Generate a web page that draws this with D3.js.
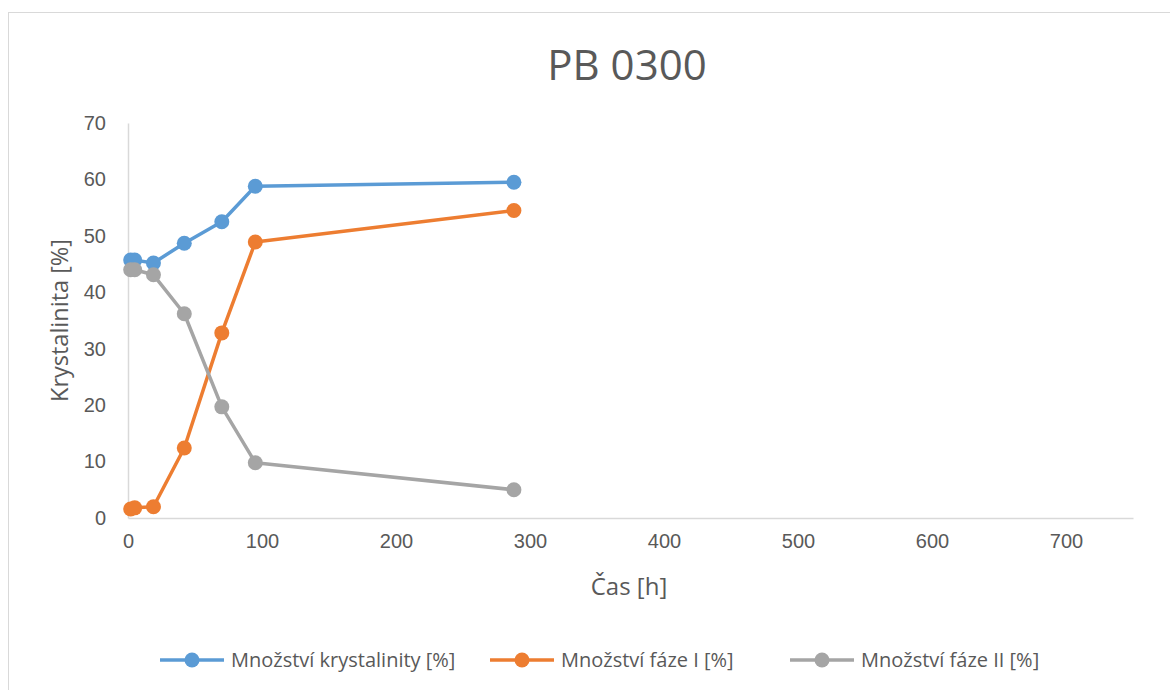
<!DOCTYPE html>
<html>
<head>
<meta charset="utf-8">
<script src="https://cdn.jsdelivr.net/npm/d3@7"></script>
<style>
  body { margin: 0; background: #fff; }
  svg { display: block; font-family: "Open Sans", "Noto Sans", sans-serif; }
</style>
</head>
<body>
<svg id="chart" width="1170" height="690"></svg>
<script>
// Sampling times [h]
const times = [2, 5, 19, 42, 70, 95, 288];
// Measured values [%]
const crystallinity = [45.7, 45.7, 45.2, 48.7, 52.5, 58.8, 59.5];
const phaseI = [1.6, 1.8, 2.0, 12.4, 32.8, 48.9, 54.5];
const phaseII = [44.0, 44.0, 43.1, 36.2, 19.7, 9.8, 5.0];

const seriesNames = ["Množství krystalinity [%]", "Množství fáze I [%]", "Množství fáze II [%]"];
const seriesColors = ["#5b9bd5", "#ed7d31", "#a5a5a5"];
const xTicks = [0, 100, 200, 300, 400, 500, 600, 700];
const yTicks = [0, 10, 20, 30, 40, 50, 60, 70];

const series = [crystallinity, phaseI, phaseII].map((vals, i) => ({
  name: seriesNames[i],
  color: seriesColors[i],
  points: vals.map((v, j) => ({ t: times[j], v }))
}));

const svg = d3.select("#chart");
const W = 1170, H = 690;
const plot = { left: 128, right: 1133, top: 123, bottom: 518 };

// chart frame
svg.append("rect")
  .attr("x", 8.5).attr("y", 12.5)
  .attr("width", W).attr("height", H)
  .attr("fill", "#fff").attr("stroke", "#d9d9d9").attr("stroke-width", 1);

const x = d3.scaleLinear().domain([0, 750]).range([plot.left, plot.right]);
const y = d3.scaleLinear().domain([0, 70]).range([plot.bottom, plot.top]);

const textColor = "#595959";

// title
svg.append("text")
  .attr("x", 627).attr("y", 80)
  .attr("text-anchor", "middle")
  .attr("font-size", 42).attr("fill", textColor)
  .text("PB 0300");

// x axis
const xAxis = svg.append("g")
  .attr("transform", `translate(0,${plot.bottom})`)
  .call(d3.axisBottom(x).tickValues(xTicks).tickSize(0).tickPadding(16).tickFormat(d3.format("d")));
xAxis.select(".domain").attr("stroke", "#d9d9d9").attr("stroke-width", 1.5);
xAxis.selectAll("text").attr("font-size", 20).attr("fill", textColor).attr("font-family", null);

// y axis
const yAxis = svg.append("g")
  .attr("transform", `translate(${plot.left},0)`)
  .call(d3.axisLeft(y).tickValues(yTicks).tickSize(0).tickPadding(22).tickFormat(d3.format("d")));
yAxis.select(".domain").attr("stroke", "#d9d9d9").attr("stroke-width", 1.5);
yAxis.selectAll("text").attr("font-size", 20).attr("fill", textColor).attr("font-family", null);

// axis titles
svg.append("text")
  .attr("x", 629).attr("y", 595)
  .attr("text-anchor", "middle")
  .attr("font-size", 24).attr("fill", textColor)
  .text("Čas [h]");

svg.append("text")
  .attr("transform", `translate(68,${(plot.top + plot.bottom) / 2}) rotate(-90)`)
  .attr("text-anchor", "middle")
  .attr("font-size", 23.5).attr("fill", textColor)
  .text("Krystalinita [%]");

// series lines and markers
const line = d3.line().x(d => x(d.t)).y(d => y(d.v));
series.forEach(s => {
  const g = svg.append("g");
  g.append("path")
    .attr("d", line(s.points))
    .attr("fill", "none").attr("stroke", s.color)
    .attr("stroke-width", 3.5).attr("stroke-linejoin", "round");
  g.selectAll("circle").data(s.points).join("circle")
    .attr("cx", d => x(d.t)).attr("cy", d => y(d.v))
    .attr("r", 7.5).attr("fill", s.color);
});

// legend
const legendY = 660;
const legendX = [160, 490, 790];
series.forEach((s, i) => {
  const g = svg.append("g").attr("transform", `translate(${legendX[i]},${legendY})`);
  g.append("line").attr("x1", 0).attr("x2", 64).attr("y1", 0).attr("y2", 0)
    .attr("stroke", s.color).attr("stroke-width", 3.5);
  g.append("circle").attr("cx", 32).attr("cy", 0).attr("r", 7.5).attr("fill", s.color);
  g.append("text").attr("x", 71).attr("y", 7)
    .attr("font-size", 20).attr("fill", textColor)
    .text(s.name);
});
</script>
</body>
</html>
